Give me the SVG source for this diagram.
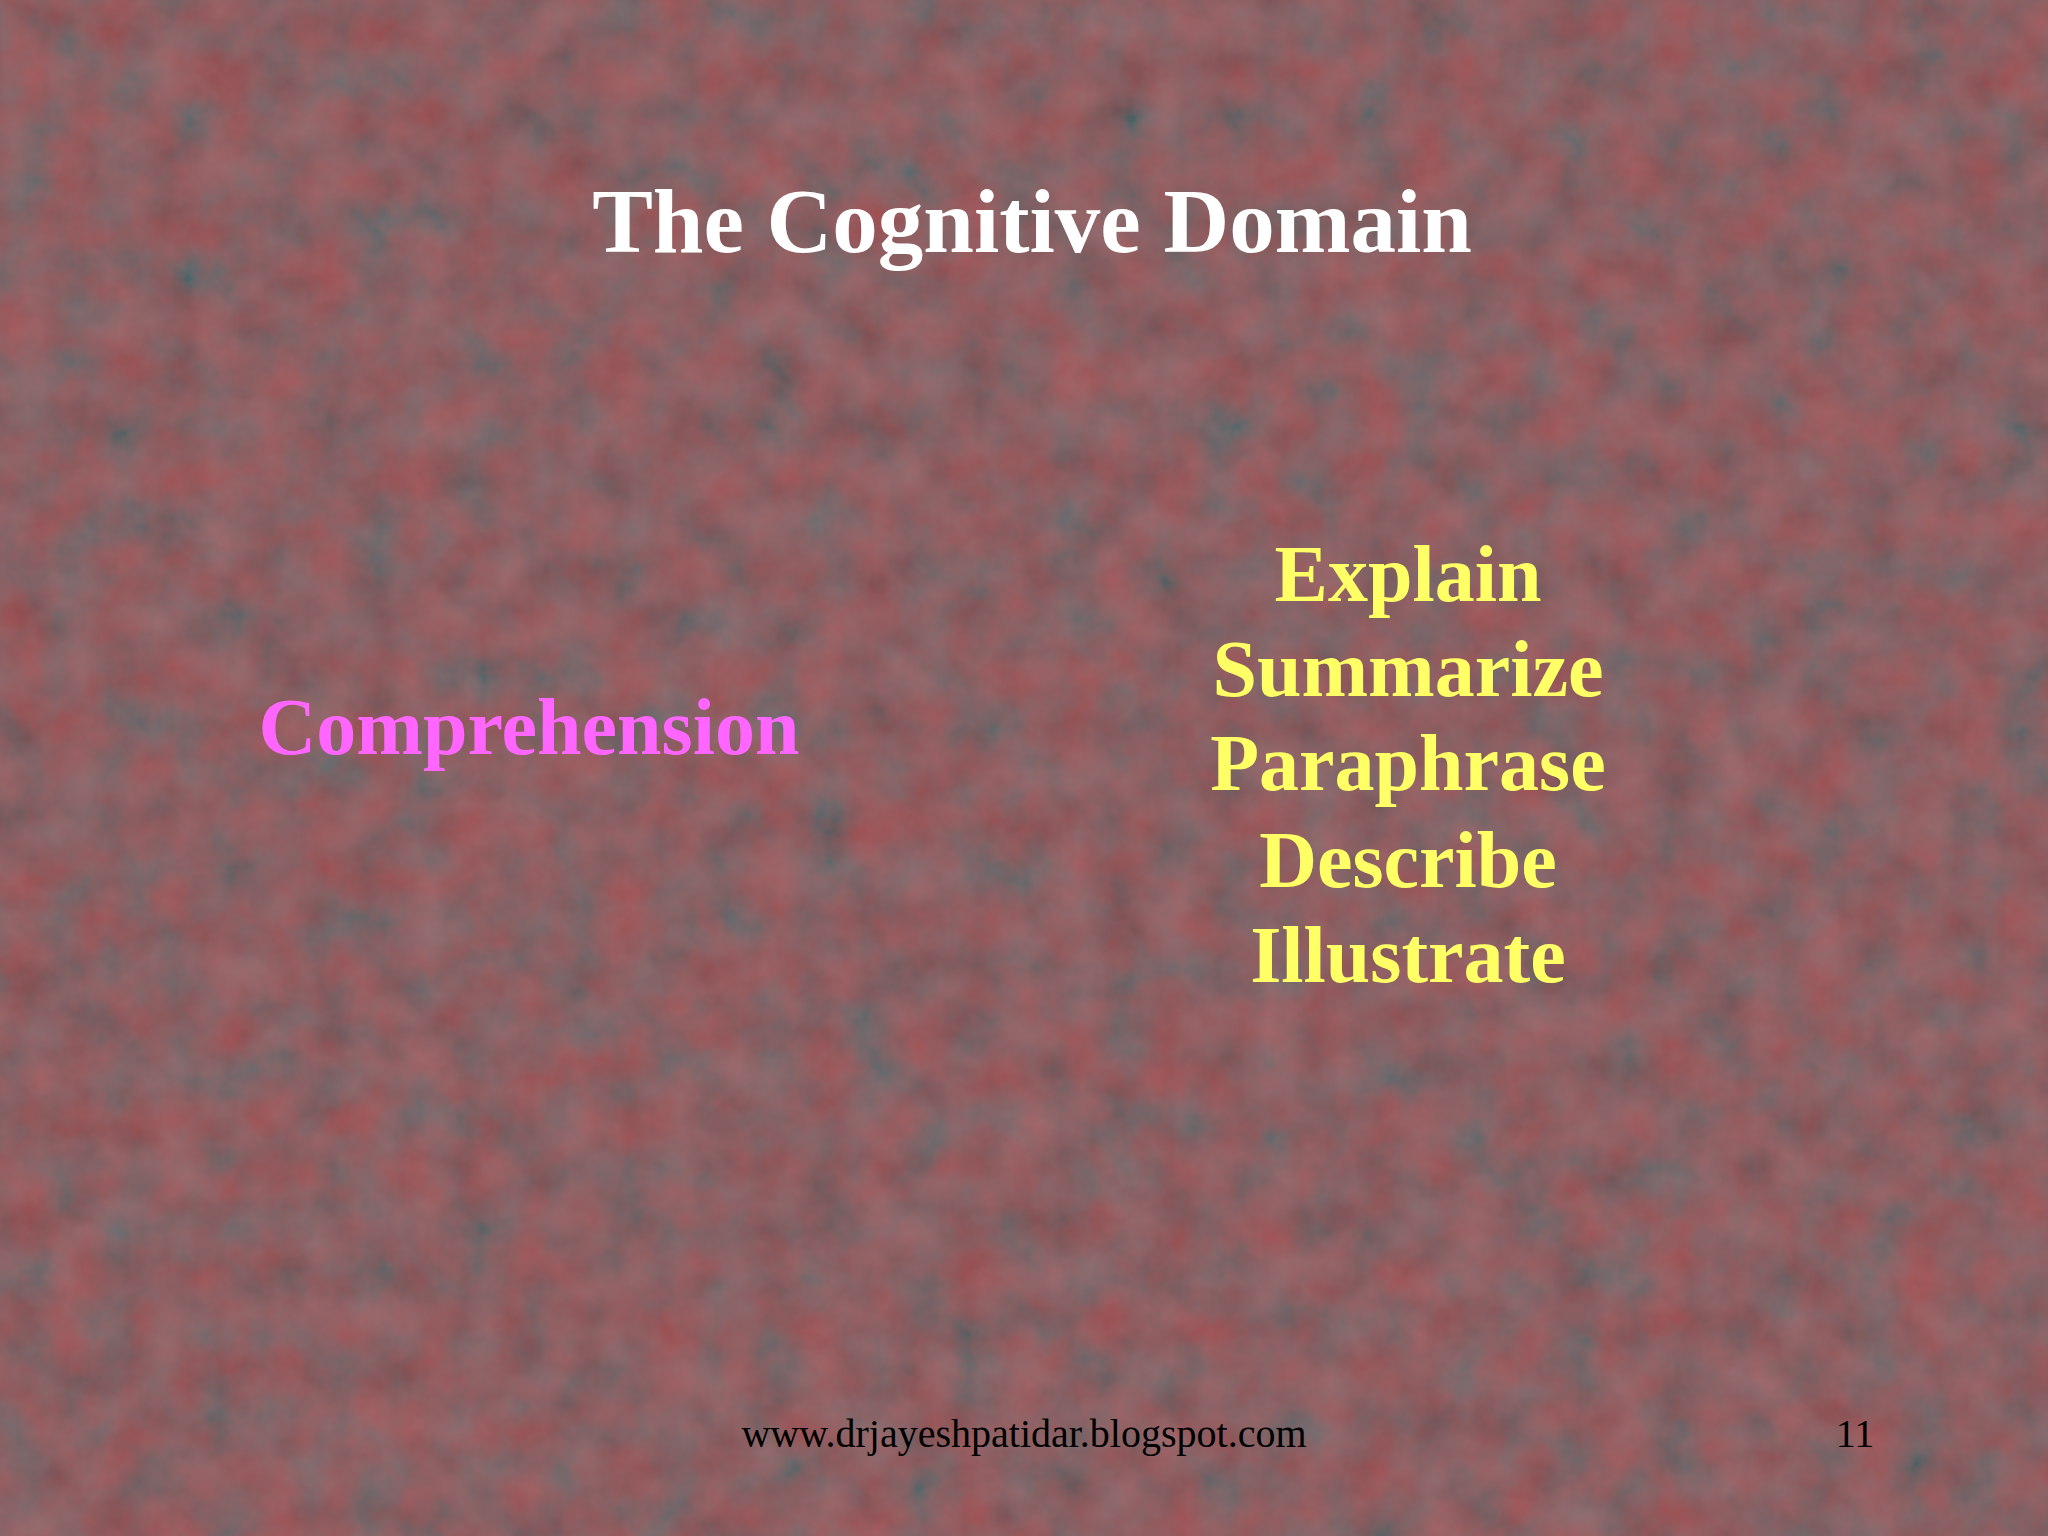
<svg xmlns="http://www.w3.org/2000/svg" width="2048" height="1536" viewBox="0 0 2048 1536">
<defs>
<filter id="tex" x="0" y="0" width="100%" height="100%">
<feTurbulence type="fractalNoise" baseFrequency="0.02" numOctaves="4" seed="3" result="n"/>
<feColorMatrix in="n" type="matrix" values="0.8 -0.2 0 0 0.05  0 0.35 0 0 0.1  0 0.35 0 0 0.1  0 0 0 0 0.4"/>
</filter>
</defs>
<style>
.t{font-family:"Liberation Serif",serif;font-weight:bold;text-anchor:middle}
.y{fill:#FFFF66;font-size:80px}
</style>
<rect width="2048" height="1536" fill="#7e4146"/>
<rect width="2048" height="1536" filter="url(#tex)"/>
<g id="title"><text class="t" x="1032" y="252" font-size="91" fill="#FFFFFF">The Cognitive Domain</text></g>
<g id="comprehension"><text class="t" x="529" y="754" font-size="80" fill="#FF66FF">Comprehension</text></g>
<g id="verbs">
<text class="t y" x="1408" y="601">Explain</text>
<text class="t y" x="1408" y="696">Summarize</text>
<text class="t y" x="1408" y="790">Paraphrase</text>
<text class="t y" x="1408" y="887">Describe</text>
<text class="t y" x="1408" y="982">Illustrate</text>
</g>
<g id="footer" font-family="'Liberation Serif',serif" font-size="40" fill="#000000">
<text x="1024" y="1447" text-anchor="middle">www.drjayeshpatidar.blogspot.com</text>
<text x="1855" y="1447" text-anchor="middle">11</text>
</g>
<g id="connectors"/>
</svg>
